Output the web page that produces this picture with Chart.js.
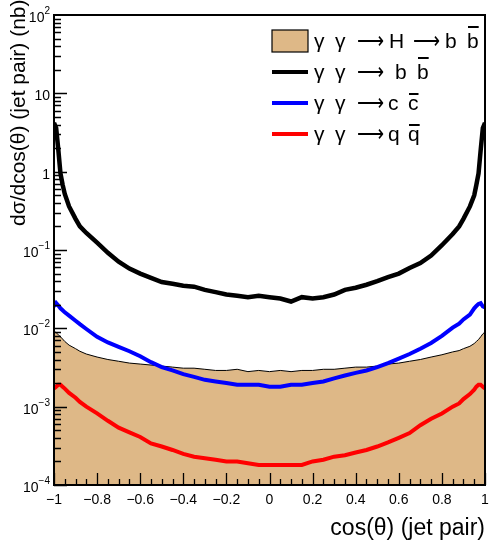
<!DOCTYPE html>
<html>
<head>
<meta charset="utf-8">
<script src="https://cdn.jsdelivr.net/npm/chart.js@4"></script>
<style>
  body { margin: 0; background: #fff; }
  canvas { display: block; }
</style>
</head>
<body>
<canvas id="c" width="493" height="544"></canvas>
<script>
// cos(theta) of the jet pair, and the cross sections (nb)
const cosTheta = [-1, -0.99, -0.98, -0.97, -0.96, -0.95, -0.93, -0.9, -0.88,
  -0.85, -0.8, -0.75, -0.7, -0.65, -0.6, -0.55, -0.5, -0.45, -0.4,
  -0.35, -0.3, -0.25, -0.2, -0.15, -0.1, -0.05, 0,
  0.05, 0.1, 0.15, 0.2, 0.25, 0.3, 0.35, 0.4,
  0.45, 0.5, 0.55, 0.6, 0.65, 0.7, 0.75, 0.8, 0.85,
  0.88, 0.9, 0.93, 0.95, 0.96, 0.97, 0.98, 0.99, 1];
const higgsBB = [0.0092, 0.0088, 0.0083, 0.0078, 0.0073, 0.0068, 0.0061, 0.0055, 0.0051,
  0.0047, 0.0043, 0.0040, 0.0038, 0.0036, 0.0035, 0.0034, 0.0033, 0.0032, 0.0031,
  0.0031, 0.0030, 0.0029, 0.0029, 0.0030, 0.0028, 0.0029, 0.0028,
  0.0029, 0.0028, 0.0029, 0.0029, 0.0030, 0.0030, 0.0031, 0.0032,
  0.0032, 0.0033, 0.0035, 0.0036, 0.0038, 0.0040, 0.0043, 0.0046, 0.0050,
  0.0052, 0.0055, 0.0059, 0.0064, 0.0068, 0.0072, 0.0078, 0.0085, 0.0090];
const bbBar = [4.2, 3.6, 1.9, 0.95, 0.68, 0.52, 0.36, 0.25, 0.20,
  0.165, 0.124, 0.092, 0.071, 0.058, 0.050, 0.044, 0.039, 0.037, 0.035,
  0.034, 0.031, 0.029, 0.027, 0.026, 0.025, 0.026, 0.025,
  0.024, 0.022, 0.025, 0.024, 0.025, 0.027, 0.031, 0.033,
  0.036, 0.040, 0.045, 0.050, 0.059, 0.068, 0.085, 0.115, 0.16,
  0.20, 0.25, 0.36, 0.50, 0.68, 0.95, 1.9, 3.6, 4.2];
const ccBar = [0.019, 0.021, 0.0195, 0.018, 0.017, 0.016, 0.0145, 0.0125, 0.0113,
  0.0098, 0.0078, 0.0066, 0.0058, 0.0051, 0.0044, 0.0037, 0.0032, 0.0029, 0.0026,
  0.0024, 0.0022, 0.0021, 0.0020, 0.0019, 0.0019, 0.0019, 0.0018,
  0.0018, 0.0019, 0.0019, 0.0020, 0.0021, 0.0023, 0.0025, 0.0027,
  0.0029, 0.0032, 0.0036, 0.0041, 0.0047, 0.0055, 0.0065, 0.0080, 0.0102,
  0.0115, 0.0130, 0.0150, 0.0180, 0.0193, 0.0205, 0.021, 0.0190, 0.0185];
const qqBar = [0.0017, 0.0018, 0.0019, 0.0019, 0.0018, 0.0017, 0.0015, 0.0013, 0.00115,
  0.00100, 0.00082, 0.00066, 0.00054, 0.00047, 0.00041, 0.00034, 0.00031, 0.00028, 0.00025,
  0.00023, 0.00022, 0.00021, 0.00020, 0.00020, 0.00019, 0.00018, 0.00018,
  0.00018, 0.00018, 0.00018, 0.00020, 0.00021, 0.00023, 0.00024, 0.00026,
  0.00028, 0.00031, 0.00035, 0.00040, 0.00046, 0.00058, 0.00070, 0.00082, 0.00100,
  0.00110, 0.00125, 0.00145, 0.00165, 0.0018, 0.0019, 0.0019, 0.0018, 0.0017];

const xTickValues = [-1, -0.8, -0.6, -0.4, -0.2, 0, 0.2, 0.4, 0.6, 0.8, 1];
const xTickLabels = ['\u22121', '\u22120.8', '\u22120.6', '\u22120.4', '\u22120.2', '0', '0.2', '0.4', '0.6', '0.8', '1'];
const yTickValues = [1e-4, 1e-3, 1e-2, 1e-1, 1, 10, 100];
const yTickLabels = [['10', '\u22124'], ['10', '\u22123'], ['10', '\u22122'], ['10', '\u22121'], ['1', ''], ['10', ''], ['10', '2']];

const FONT = '"Liberation Sans", Arial, Helvetica, sans-serif';
const TAN = '#DEB887';

function pts(ys) {
  return cosTheta.map((x, i) => ({ x: x, y: ys[i] }));
}

// legend rows: symbol type, colour, text pieces [text, x, overline]
const legendRows = [
  { kind: 'box', color: TAN, pieces: [['γ', 314], ['γ', 335], ['⟶', 357], ['H', 389], ['⟶', 413], ['b', 445], ['b', 467, true]] },
  { kind: 'line', color: '#000', pieces: [['γ', 314], ['γ', 335], ['⟶', 357], ['b', 395], ['b', 417, true]] },
  { kind: 'line', color: '#0000ff', pieces: [['γ', 314], ['γ', 335], ['⟶', 357], ['c', 388], ['c', 408, true]] },
  { kind: 'line', color: '#ff0000', pieces: [['γ', 314], ['γ', 335], ['⟶', 357], ['q', 388], ['q', 408, true]] },
];

const rootAxes = {
  id: 'rootAxes',
  afterDraw(chart) {
    const { ctx, chartArea: a, scales: { x, y } } = chart;
    ctx.save();
    ctx.strokeStyle = '#000';
    ctx.fillStyle = '#000';

    // ticks inside the frame
    ctx.lineWidth = 1.3;
    ctx.beginPath();
    for (let i = 0; i <= 40; i++) {
      const px = Math.round(x.getPixelForValue(-1 + i * 0.05)) + 0.5;
      const len = i % 4 === 0 ? 12 : 6;
      ctx.moveTo(px, a.bottom);
      ctx.lineTo(px, a.bottom - len);
    }
    for (let d = -4; d <= 1; d++) {
      for (let m = 1; m <= 9; m++) {
        const py = Math.round(y.getPixelForValue(m * Math.pow(10, d))) + 0.5;
        const len = m === 1 ? 13 : 7;
        ctx.moveTo(a.left, py);
        ctx.lineTo(a.left + len, py);
      }
    }
    ctx.stroke();

    // frame
    ctx.lineWidth = 2;
    ctx.strokeRect(a.left, a.top, a.right - a.left, a.bottom - a.top);

    // x tick labels
    ctx.font = '14px ' + FONT;
    ctx.textAlign = 'center';
    ctx.textBaseline = 'alphabetic';
    xTickValues.forEach((v, i) => {
      ctx.fillText(xTickLabels[i], x.getPixelForValue(v), 504);
    });

    // y tick labels with exponents
    yTickValues.forEach((v, i) => {
      const py = y.getPixelForValue(v);
      const [base, exp] = yTickLabels[i];
      ctx.textAlign = 'right';
      let right = 50;
      if (exp) {
        ctx.font = '10px ' + FONT;
        ctx.fillText(exp, right, py - 1);
        right -= ctx.measureText(exp).width;
      }
      ctx.font = '14px ' + FONT;
      ctx.fillText(base, right, py + 7);
    });

    // axis titles
    ctx.font = '23px ' + FONT;
    ctx.textAlign = 'right';
    ctx.fillText('cos(θ) (jet pair)', a.right, 535);

    ctx.save();
    ctx.translate(25, 226);
    ctx.rotate(-Math.PI / 2);
    ctx.font = '21px ' + FONT;
    ctx.textAlign = 'left';
    ctx.fillText('dσ/dcos(θ) (jet pair) (nb)', 0, 0);
    ctx.restore();

    // legend
    legendRows.forEach((row, r) => {
      const cy = 41 + r * 31;
      const base = cy + 7;
      if (row.kind === 'box') {
        ctx.fillStyle = row.color;
        ctx.fillRect(272, cy - 11, 36, 22);
        ctx.lineWidth = 1.2;
        ctx.strokeStyle = '#000';
        ctx.strokeRect(272, cy - 11, 36, 22);
      } else {
        ctx.fillStyle = row.color;
        ctx.fillRect(272, cy - 2, 36, 4);
      }
      ctx.fillStyle = '#000';
      ctx.font = '21px ' + FONT;
      ctx.textAlign = 'left';
      row.pieces.forEach(([t, px, bar]) => {
        if (t === '⟶') {
          const w = ctx.measureText(t).width;
          ctx.save();
          ctx.translate(px, base);
          ctx.scale(27 / w, 1);
          ctx.fillText(t, 0, 0);
          ctx.restore();
          return;
        }
        ctx.fillText(t, px, base);
        if (bar) {
          const w = ctx.measureText(t).width;
          const tall = t === 'b';
          ctx.fillRect(px + 1, base - (tall ? 22 : 17), w - 1, 2);
        }
      });
    });
    ctx.restore();
  }
};

new Chart(document.getElementById('c'), {
  type: 'line',
  data: {
    datasets: [
      { label: 'γ γ → b b̄', data: pts(bbBar), borderColor: '#000', borderWidth: 4.5, fill: false, order: 1 },
      { label: 'γ γ → c c̄', data: pts(ccBar), borderColor: '#0000ff', borderWidth: 4, fill: false, order: 2 },
      { label: 'γ γ → q q̄', data: pts(qqBar), borderColor: '#ff0000', borderWidth: 4, fill: false, order: 3 },
      { label: 'γ γ → H → b b̄', data: pts(higgsBB), borderColor: '#000', borderWidth: 1, backgroundColor: TAN, fill: 'start', order: 4 },
    ],
  },
  options: {
    responsive: false,
    animation: false,
    devicePixelRatio: 1,
    elements: { point: { radius: 0 }, line: { tension: 0 } },
    layout: { padding: { left: 54, right: 8, top: 15, bottom: 59 } },
    scales: {
      x: { type: 'linear', min: -1, max: 1, display: false },
      y: { type: 'logarithmic', min: 1e-4, max: 100, display: false },
    },
    plugins: { legend: { display: false }, tooltip: { enabled: false } },
  },
  plugins: [rootAxes],
});
</script>
</body>
</html>
